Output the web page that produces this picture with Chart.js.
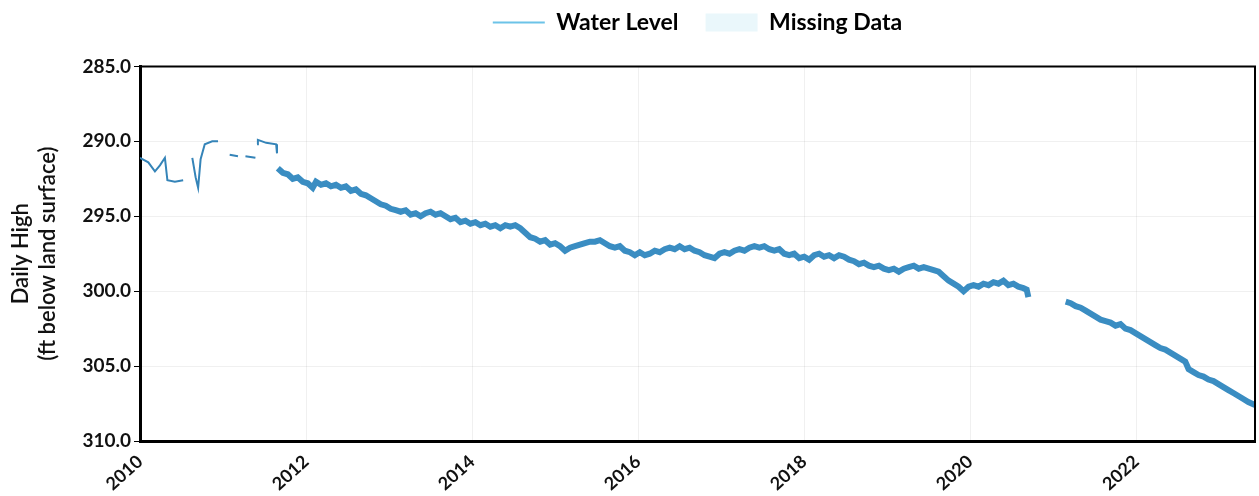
<!DOCTYPE html>
<html>
<head>
<meta charset="utf-8">
<script src="https://cdn.jsdelivr.net/npm/chart.js@4.4.1/dist/chart.umd.min.js"></script>
<style>
html,body{margin:0;padding:0;background:#fff;}
#wrap{width:1259px;height:496px;}
</style>
</head>
<body>
<div id="wrap"><canvas id="c" width="1259" height="496"></canvas></div>
<script>
// Decimal years and daily-high depth (ft below land surface); null = gap
const years = [
 2010.00,2010.10,2010.18,2010.24,2010.30,2010.33,2010.42,2010.52,2010.56,
 2010.63,2010.67,2010.70,2010.73,2010.78,2010.87,2010.94,2010.97,
 2011.08,2011.18,2011.21,2011.27,2011.39,2011.405,
 2011.41,2011.42,2011.52,2011.64,2011.65,2011.655,
 2011.66,2011.72,2011.78,2011.84,2011.90,2011.96,2012.02,2012.08,2012.12,2012.18,2012.24,2012.30,2012.36,2012.42,2012.48,2012.54,2012.60,2012.66,2012.72,2012.78,2012.84,2012.90,2012.96,
 2013.02,2013.08,2013.14,2013.20,2013.26,2013.32,2013.38,2013.44,2013.50,2013.56,2013.62,2013.68,2013.74,2013.80,2013.86,2013.92,2013.98,
 2014.04,2014.10,2014.16,2014.22,2014.28,2014.34,2014.40,2014.46,2014.52,2014.58,2014.64,2014.70,2014.76,2014.82,2014.88,2014.94,
 2015.00,2015.06,2015.12,2015.18,2015.24,2015.30,2015.36,2015.42,2015.48,2015.54,2015.60,2015.66,2015.72,2015.78,2015.84,2015.90,2015.96,
 2016.02,2016.08,2016.14,2016.20,2016.26,2016.32,2016.38,2016.44,2016.50,2016.56,2016.62,2016.68,2016.74,2016.80,2016.86,2016.92,2016.98,
 2017.04,2017.10,2017.16,2017.22,2017.28,2017.34,2017.40,2017.46,2017.52,2017.58,2017.64,2017.70,2017.76,2017.82,2017.88,2017.94,
 2018.00,2018.06,2018.12,2018.18,2018.24,2018.30,2018.36,2018.42,2018.48,2018.54,2018.60,2018.66,2018.72,2018.78,2018.84,2018.90,2018.96,
 2019.02,2019.08,2019.14,2019.20,2019.26,2019.32,2019.38,2019.44,2019.50,2019.56,2019.62,2019.68,2019.74,2019.80,2019.86,2019.92,2019.98,
 2020.04,2020.10,2020.16,2020.22,2020.28,2020.34,2020.40,2020.46,2020.52,2020.58,2020.64,2020.68,2020.70,
 2020.90,
 2021.15,2021.21,2021.27,2021.33,2021.39,2021.45,2021.51,2021.57,2021.63,2021.69,2021.75,2021.81,2021.87,2021.93,2021.99,
 2022.05,2022.11,2022.17,2022.23,2022.29,2022.35,2022.41,2022.47,2022.53,2022.59,2022.63,2022.69,2022.75,2022.81,2022.87,2022.93,2022.99,
 2023.05,2023.11,2023.17,2023.23,2023.29,2023.35,2023.43
];
const levels = [
 291.1,291.4,292.0,291.6,291.1,292.6,292.7,292.6,null,
 291.1,292.4,293.1,291.2,290.2,290.0,290.0,null,
 290.9,291.0,null,291.0,291.1,null,
 290.2,289.9,290.1,290.2,290.8,null,
 291.8,292.1,292.2,292.5,292.4,292.7,292.8,293.1,292.7,292.9,292.8,293.0,292.9,293.1,293.0,293.3,293.2,293.5,293.6,293.8,294.0,294.2,294.3,
 294.5,294.6,294.7,294.6,294.9,294.8,295.0,294.8,294.7,294.9,294.8,295.0,295.2,295.1,295.4,295.3,295.5,
 295.4,295.6,295.5,295.7,295.6,295.8,295.6,295.7,295.6,295.8,296.1,296.4,296.5,296.7,296.6,296.9,
 296.8,297.0,297.3,297.1,297.0,296.9,296.8,296.7,296.7,296.6,296.8,297.0,297.1,297.0,297.3,297.4,297.6,
 297.4,297.6,297.5,297.3,297.4,297.2,297.1,297.2,297.0,297.2,297.1,297.3,297.4,297.6,297.7,297.8,297.5,
 297.4,297.5,297.3,297.2,297.3,297.1,297.0,297.1,297.0,297.2,297.3,297.2,297.5,297.6,297.5,297.8,
 297.7,297.9,297.6,297.5,297.7,297.6,297.8,297.6,297.7,297.9,298.0,298.2,298.1,298.3,298.4,298.3,298.5,
 298.6,298.5,298.7,298.5,298.4,298.3,298.5,298.4,298.5,298.6,298.7,299.0,299.3,299.5,299.7,300.0,299.7,
 299.6,299.7,299.5,299.6,299.4,299.5,299.3,299.6,299.5,299.7,299.8,299.9,300.4,
 null,
 300.7,300.8,301.0,301.1,301.3,301.5,301.7,301.9,302.0,302.1,302.3,302.2,302.5,302.6,302.8,
 303.0,303.2,303.4,303.6,303.8,303.9,304.1,304.3,304.5,304.7,305.2,305.4,305.6,305.7,305.9,306.0,306.2,
 306.4,306.6,306.8,307.0,307.2,307.4,307.6
];
const xTicks = [2010, 2012, 2014, 2016, 2018, 2020, 2022];
const yTicks = [285, 290, 295, 300, 305, 310];
const seriesNames = ['Water Level', 'Missing Data'];

const FONT = 'Lato, "Open Sans", sans-serif';
const points = years.map((x, i) => ({x: x, y: levels[i]}));

const frame = {
  id: 'frame',
  afterDraw(chart) {
    const {ctx, chartArea: a} = chart;
    ctx.save();
    ctx.strokeStyle = '#000';
    ctx.lineWidth = 2;
    ctx.beginPath();
    ctx.moveTo(a.left, a.top);
    ctx.lineTo(a.right, a.top);
    ctx.lineTo(a.right, a.bottom);
    ctx.stroke();
    ctx.restore();
  }
};

new Chart(document.getElementById('c'), {
  type: 'line',
  data: {
    datasets: [
      {
        label: seriesNames[0],
        data: points,
        borderColor: '#3a8dc2',
        borderWidth: 6,
        pointRadius: 0,
        tension: 0,
        spanGaps: false,
        segment: {
          borderWidth: c => (c.p0.parsed.x < 2011.66 ? 2 : 6),
          borderColor: c => (c.p0.parsed.x < 2011.66 ? '#3584b8' : '#3a8dc2')
        }
      },
      {
        label: seriesNames[1],
        data: [],
        borderColor: '#e6f6fa',
        backgroundColor: '#e6f6fa',
        pointRadius: 0
      }
    ]
  },
  plugins: [frame],
  options: {
    responsive: false,
    animation: false,
    layout: {padding: {top: -16, right: 4, left: 8, bottom: 0}},
    plugins: {
      tooltip: {enabled: false},
      subtitle: {
        display: true,
        text: ' ',
        weight: 500,
        fullSize: false,
        color: 'rgba(0,0,0,0)',
        font: {size: 12},
        padding: {top: 0, bottom: 8}
      },
      legend: {
        position: 'top',
        fullSize: false,
        labels: {
          color: '#111',
          font: {family: FONT, size: 23, weight: 'bold'},
          usePointStyle: true,
          pointStyleWidth: 52,
          boxHeight: 18,
          padding: 27,
          generateLabels: () => [
            {text: seriesNames[0], pointStyle: 'line', strokeStyle: '#6cc3e8', fillStyle: '#6cc3e8', lineWidth: 2, datasetIndex: 0, hidden: false},
            {text: seriesNames[1], pointStyle: 'rect', strokeStyle: '#eaf7fb', fillStyle: '#eaf7fb', lineWidth: 0, datasetIndex: 1, hidden: false}
          ]
        }
      }
    },
    scales: {
      x: {
        type: 'linear',
        min: 2010,
        max: 2023.43,
        afterFit: s => { s.height = 55; },
        afterBuildTicks: s => { s.ticks = xTicks.map(v => ({value: v})); },
        border: {display: true, color: '#000', width: 3},
        grid: {color: 'rgba(0,0,0,0.06)', borderDash: [1, 20], drawTicks: false},
        ticks: {
          color: '#111',
          font: {family: FONT, size: 18, weight: 'bold'},
          minRotation: 42,
          maxRotation: 42,
          padding: 10,
          callback: v => String(v)
        }
      },
      y: {
        reverse: true,
        min: 285,
        max: 310,
        afterFit: s => { s.width = 132; },
        afterBuildTicks: s => { s.ticks = yTicks.map(v => ({value: v})); },
        border: {display: true, color: '#000', width: 3},
        grid: {color: 'rgba(0,0,0,0.06)', borderDash: [1, 20], tickColor: '#000', tickBorderDash: [], tickLength: 6},
        ticks: {
          color: '#111',
          font: {family: FONT, size: 19, weight: 'bold'},
          padding: 3,
          callback: v => Number(v).toFixed(1)
        },
        title: {
          display: true,
          text: ['Daily High', '(ft below land surface)'],
          color: '#111',
          font: {family: FONT, size: 22, weight: '600'},
          padding: {top: 0, bottom: 8}
        }
      }
    }
  }
});
</script>
</body>
</html>
